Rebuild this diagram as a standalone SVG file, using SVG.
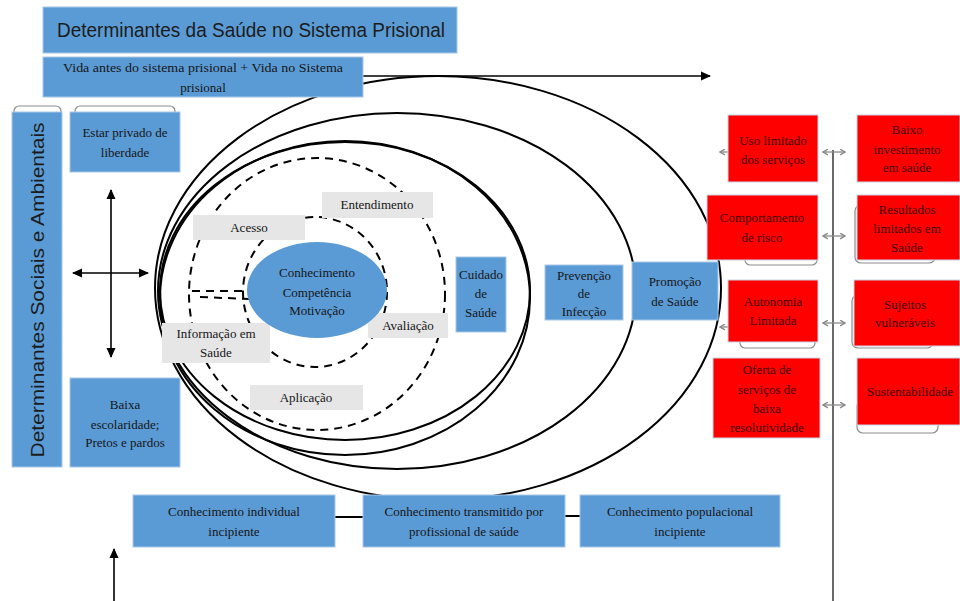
<svg xmlns="http://www.w3.org/2000/svg" width="960" height="601" viewBox="0 0 960 601">
<style>
.blue{fill:#5b9bd5;stroke:#a9c8e8;stroke-width:1}
.red{fill:#ff0000;stroke:#c9d6e8;stroke-width:1}
.gray{fill:#e6e6e6}
.tab{fill:#fff;stroke:#8c8c8c;stroke-width:1.2}
.ring{fill:none;stroke:#000;stroke-width:2}
.dash{fill:none;stroke:#000;stroke-width:2;stroke-dasharray:8 6}
.t{font-family:"Liberation Serif","Times New Roman",serif;font-size:13px;fill:#151515;text-anchor:middle}
.tr{font-family:"Liberation Serif","Times New Roman",serif;font-size:13px;fill:#3a0505;text-anchor:middle}
.s{font-family:"Liberation Sans",Arial,sans-serif;fill:#1b1b1b;text-anchor:middle}
.arr{stroke:#000;stroke-width:1.6;fill:none}
.sm{stroke:#888;stroke-width:1.3;fill:none}
</style>
<defs>
<marker id="ah" viewBox="0 0 10 10" refX="9" refY="5" markerWidth="10" markerHeight="10" markerUnits="userSpaceOnUse" orient="auto-start-reverse"><path d="M0,0.5 L10,5 L0,9.5 z" fill="#000"/></marker>
<marker id="sg" viewBox="0 0 10 10" refX="9" refY="5" markerWidth="7" markerHeight="7" markerUnits="userSpaceOnUse" orient="auto-start-reverse"><path d="M2,1 L9,5 L2,9" fill="none" stroke="#888" stroke-width="2"/></marker>
</defs>
<rect width="960" height="601" fill="#fff"/>

<g id="rings">
<ellipse class="ring" cx="438" cy="288" rx="283" ry="212" stroke-width="2.6"/>
<ellipse class="ring" cx="397" cy="291" rx="239" ry="178"/>
<ellipse class="ring" cx="345" cy="298" rx="185" ry="157"/>
<ellipse class="ring" cx="345" cy="291" rx="185" ry="149"/>
<ellipse class="dash" cx="317" cy="294" rx="128" ry="136"/>
<ellipse class="dash" cx="315" cy="292" rx="72" ry="75"/>
<line class="dash" x1="192" y1="291" x2="250" y2="291"/>
<line class="dash" x1="200" y1="297" x2="250" y2="299"/>
</g>

<g id="connectors">
<line class="arr" x1="363" y1="76" x2="710" y2="76" marker-end="url(#ah)"/>
<line class="arr" x1="111" y1="190" x2="111" y2="357" marker-start="url(#ah)" marker-end="url(#ah)"/>
<line class="arr" x1="73" y1="273" x2="148" y2="273" marker-start="url(#ah)" marker-end="url(#ah)"/>
<line class="arr" x1="114" y1="601" x2="114" y2="549" marker-end="url(#ah)"/>
<line x1="833" y1="150" x2="833" y2="601" stroke="#444" stroke-width="1.6"/>
<line class="sm" x1="823" y1="152" x2="845" y2="152" marker-start="url(#sg)" marker-end="url(#sg)"/>
<line class="sm" x1="823" y1="236" x2="845" y2="236" marker-start="url(#sg)" marker-end="url(#sg)"/>
<line class="sm" x1="823" y1="323" x2="845" y2="323" marker-start="url(#sg)" marker-end="url(#sg)"/>
<line class="sm" x1="823" y1="405" x2="845" y2="405" marker-start="url(#sg)" marker-end="url(#sg)"/>
<line class="sm" x1="728" y1="152" x2="720" y2="152" marker-end="url(#sg)"/>
<line class="sm" x1="728" y1="327" x2="720" y2="327" marker-end="url(#sg)"/>
<line stroke="#000" stroke-width="2" x1="335" y1="517" x2="363" y2="517"/>
<line stroke="#000" stroke-width="2" x1="565" y1="516" x2="580" y2="516"/>
</g>

<g id="n-titulo"><rect class="blue" x="43" y="7" width="414" height="46"/><text class="s" x="251" y="37" font-size="20.5" textLength="388" lengthAdjust="spacingAndGlyphs">Determinantes da Saúde no Sistema Prisional</text></g>
<g id="n-vida"><rect class="blue" x="43" y="57" width="320" height="40"/><text class="t" x="203" y="72" textLength="280" lengthAdjust="spacingAndGlyphs">Vida antes  do sistema  prisional  + Vida no Sistema</text><text class="t" x="203" y="92">prisional</text></g>

<g id="n-dsa"><rect class="tab" x="14" y="106" width="47" height="30" rx="5"/><rect class="blue" x="12" y="112" width="50" height="355"/><text class="s" transform="translate(37,290) rotate(-90)" x="0" y="7" font-size="19" textLength="335" lengthAdjust="spacingAndGlyphs">Determinantes Sociais e Ambientais</text></g>
<g id="n-estar"><rect class="tab" x="75" y="106" width="100" height="30" rx="5"/><rect class="blue" x="70" y="112" width="110" height="60"/><text class="t" x="125" y="137">Estar privado  de</text><text class="t" x="125" y="157">liberdade</text></g>
<g id="n-baixa"><rect class="blue" x="70" y="378" width="110" height="89"/><text class="t" x="125" y="409">Baixa</text><text class="t" x="125" y="429">escolaridade;</text><text class="t" x="125" y="447">Pretos e pardos</text></g>

<g id="n-acesso"><rect class="gray" x="193" y="215" width="112" height="25"/><text class="t" x="249" y="232">Acesso</text></g>
<g id="n-entendimento"><rect class="gray" x="322" y="192" width="111" height="26"/><text class="t" x="377" y="209">Entendimento</text></g>
<g id="n-avaliacao"><rect class="gray" x="368" y="313" width="80" height="25"/><text class="t" x="408" y="330">Avaliação</text></g>
<g id="n-informacao"><rect class="gray" x="162" y="323" width="108" height="40"/><text class="t" x="216" y="338">Informação  em</text><text class="t" x="216" y="357">Saúde</text></g>
<g id="n-aplicacao"><rect class="gray" x="250" y="385" width="113" height="25"/><text class="t" x="306" y="402">Aplicação</text></g>

<g id="n-nucleo"><ellipse cx="317" cy="290" rx="70" ry="48" fill="#5b9bd5"/><text class="t" x="317" y="277">Conhecimento</text><text class="t" x="317" y="297">Competência</text><text class="t" x="317" y="315">Motivação</text></g>

<g id="n-cuidado"><rect class="blue" x="456" y="257" width="50" height="75"/><text class="t" x="481" y="279">Cuidado</text><text class="t" x="481" y="298">de</text><text class="t" x="481" y="317">Saúde</text></g>
<g id="n-prevencao"><rect class="blue" x="545" y="265" width="78" height="55"/><text class="t" x="584" y="280">Prevenção</text><text class="t" x="584" y="298">de</text><text class="t" x="584" y="316">Infecção</text></g>
<g id="n-promocao"><rect class="blue" x="632" y="262" width="86" height="58"/><text class="t" x="675" y="286">Promoção</text><text class="t" x="675" y="306">de Saúde</text></g>

<g id="n-uso"><rect class="red" x="728" y="115" width="90" height="67"/><text class="tr" x="773" y="145">Uso limitado</text><text class="tr" x="773" y="164">dos serviços</text></g>
<g id="n-comportamento"><rect class="tab" x="745" y="235" width="72" height="30" rx="5"/><rect class="red" x="707" y="195" width="111" height="65"/><text class="tr" x="762" y="222">Comportamento</text><text class="tr" x="762" y="242">de risco</text></g>
<g id="n-autonomia"><rect class="tab" x="740" y="318" width="75" height="30" rx="5"/><rect class="red" x="728" y="280" width="90" height="62"/><text class="tr" x="773" y="306">Autonomia</text><text class="tr" x="773" y="325">Limitada</text></g>
<g id="n-oferta"><rect class="red" x="713" y="358" width="107" height="80"/><text class="tr" x="767" y="374">Oferta de</text><text class="tr" x="767" y="394">serviços  de</text><text class="tr" x="767" y="413">baixa</text><text class="tr" x="767" y="432">resolutividade</text></g>
<g id="n-investimento"><rect class="red" x="857" y="115" width="103" height="67"/><text class="tr" x="907" y="134">Baixo</text><text class="tr" x="907" y="154">investimento</text><text class="tr" x="907" y="172">em  saúde</text></g>
<g id="n-resultados"><rect class="tab" x="855" y="205" width="80" height="58" rx="6"/><rect class="red" x="857" y="195" width="103" height="65"/><text class="tr" x="907" y="214">Resultados</text><text class="tr" x="907" y="233">limitados  em</text><text class="tr" x="907" y="252">Saúde</text></g>
<g id="n-sujeitos"><rect class="tab" x="852" y="295" width="81" height="53" rx="6"/><rect class="red" x="854" y="280" width="106" height="66"/><text class="tr" x="905" y="309">Sujeitos</text><text class="tr" x="905" y="327">vulneráveis</text></g>
<g id="n-sustentabilidade"><rect class="tab" x="857" y="400" width="81" height="33" rx="6"/><rect class="red" x="857" y="358" width="103" height="67"/><text class="tr" x="910" y="396">Sustentabilidade</text></g>

<g id="n-individual"><rect class="blue" x="133" y="495" width="202" height="52"/><text class="t" x="234" y="516">Conhecimento  individual</text><text class="t" x="234" y="536">incipiente</text></g>
<g id="n-transmitido"><rect class="blue" x="363" y="495" width="202" height="52"/><text class="t" x="464" y="516">Conhecimento  transmitido  por</text><text class="t" x="464" y="536">profissional  de saúde</text></g>
<g id="n-populacional"><rect class="blue" x="580" y="495" width="200" height="52"/><text class="t" x="680" y="516">Conhecimento  populacional</text><text class="t" x="680" y="536">incipiente</text></g>
</svg>
